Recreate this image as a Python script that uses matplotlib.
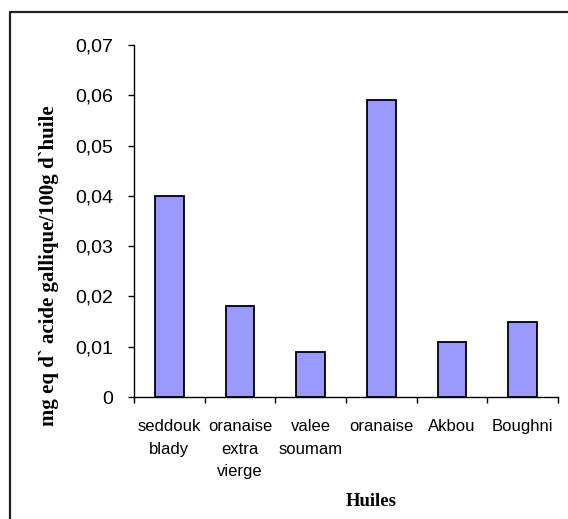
import matplotlib
matplotlib.use("Agg")
import matplotlib.pyplot as plt
from matplotlib.lines import Line2D
from matplotlib.ticker import FuncFormatter
import numpy as np

# Teneur en polyphénols des huiles
categories = ["seddouk\nblady", "oranaise\nextra\nvierge", "valee\nsoumam",
              "oranaise", "Akbou", "Boughni"]
values = [0.040, 0.018, 0.009, 0.059, 0.011, 0.015]
y_ticks = [0.00, 0.01, 0.02, 0.03, 0.04, 0.05, 0.06, 0.07]

W, H = 568, 519
fig = plt.figure(figsize=(W / 100, H / 100), dpi=100)
fig.patch.set_facecolor("white")

ax = fig.add_axes([134 / W, 1 - 397 / H, (558 - 134) / W, (397 - 45) / H])

x = np.arange(len(categories))
ax.bar(x, values, width=0.41, color="#9999FF", edgecolor="black", linewidth=1.3,
       zorder=3)

ax.set_xlim(-0.5, len(categories) - 0.5)
ax.set_ylim(0, 0.07)
ax.set_yticks(y_ticks)
ax.yaxis.set_major_formatter(
    FuncFormatter(lambda v, _: "0" if abs(v) < 1e-12 else f"{v:.2f}".replace(".", ",")))

# category labels centred between boundary ticks
ax.set_xticks(x)
ax.set_xticklabels(categories, fontfamily="Liberation Sans", fontsize=12,
                   linespacing=1.62, va="top")
ax.tick_params(axis="x", which="major", length=0, pad=16)
ax.set_xticks(np.arange(len(categories) + 1) - 0.5, minor=True)
ax.tick_params(axis="x", which="minor", length=4.5, width=1, direction="out",
               color="black")

ax.tick_params(axis="y", length=4.3, width=1, direction="out", pad=10.5, color="black")
for lab in ax.get_yticklabels():
    lab.set_fontfamily("Liberation Sans")
    lab.set_fontsize(14)

for side in ("top", "right"):
    ax.spines[side].set_visible(False)
for side in ("left", "bottom"):
    ax.spines[side].set_linewidth(1)
    ax.spines[side].set_color("black")

fig.text(49 / W, 1 - 266 / H, "mg eq d` acide gallique/100g d`huile",
         rotation=90, ha="center", va="center",
         fontfamily="Liberation Serif", fontweight="bold", fontsize=15)
fig.text(371 / W, 1 - 502 / H, "Huiles", ha="center", va="center",
         fontfamily="Liberation Serif", fontweight="bold", fontsize=13.5)

# outer frame (top and left edges)
fig.add_artist(Line2D([10 / W, 10 / W, 1.0], [0.0, 1 - 12 / H, 1 - 12 / H],
                      transform=fig.transFigure, color="#222222", linewidth=1.6))

fig.savefig("out.png", dpi=100, facecolor="white")
